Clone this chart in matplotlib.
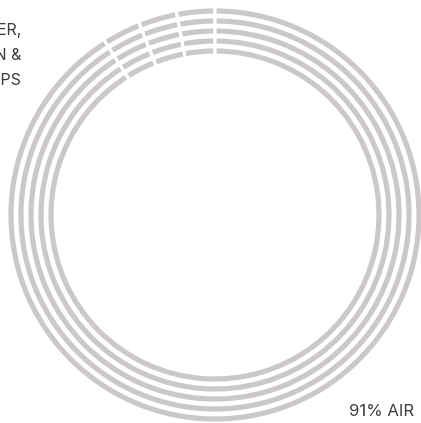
import matplotlib
matplotlib.use("Agg")
import matplotlib.pyplot as plt

# share of the bag, in percent, drawn from the top going counter-clockwise
shares = [3, 3, 3, 91]
ring_radii = [164, 174, 184, 194, 204]   # ring centre lines, px
air_label = "91% AIR"
other_label = "9% FLAVOUR POWDER,\nOIL, SALT, GRAIN &\nPOTATO CHIPS"

RING = "#ccc8c8"
INK = "#3d3d3d"
W, H = 421, 423
CX, CY = 215, H - 215
BAND = 5.2      # visible thickness of each ring
GAP = 3.2       # white cut between segments, px

fig = plt.figure(figsize=(W / 100, H / 100), dpi=100)
ax = fig.add_axes([0, 0, 1, 1])

for r in ring_radii:
    # the white edge eats half its width on each side, so pad the band
    ax.pie(shares, radius=r + BAND / 2 + GAP / 2, center=(CX, CY),
           startangle=90, counterclock=True, colors=[RING] * len(shares),
           wedgeprops=dict(width=BAND + GAP, edgecolor="white",
                           linewidth=GAP * 72 / 100))

ax.text(414, 12, air_label, ha="right", va="center", fontsize=12,
        family="Inter", color=INK)
ax.text(21, H - 55.5, other_label, ha="right", va="center", fontsize=11.5,
        family="Inter", color=INK, linespacing=1.85, multialignment="right")

ax.set_xlim(0, W)
ax.set_ylim(0, H)
ax.set_aspect("equal")
ax.axis("off")
fig.savefig("out.png", dpi=100)
